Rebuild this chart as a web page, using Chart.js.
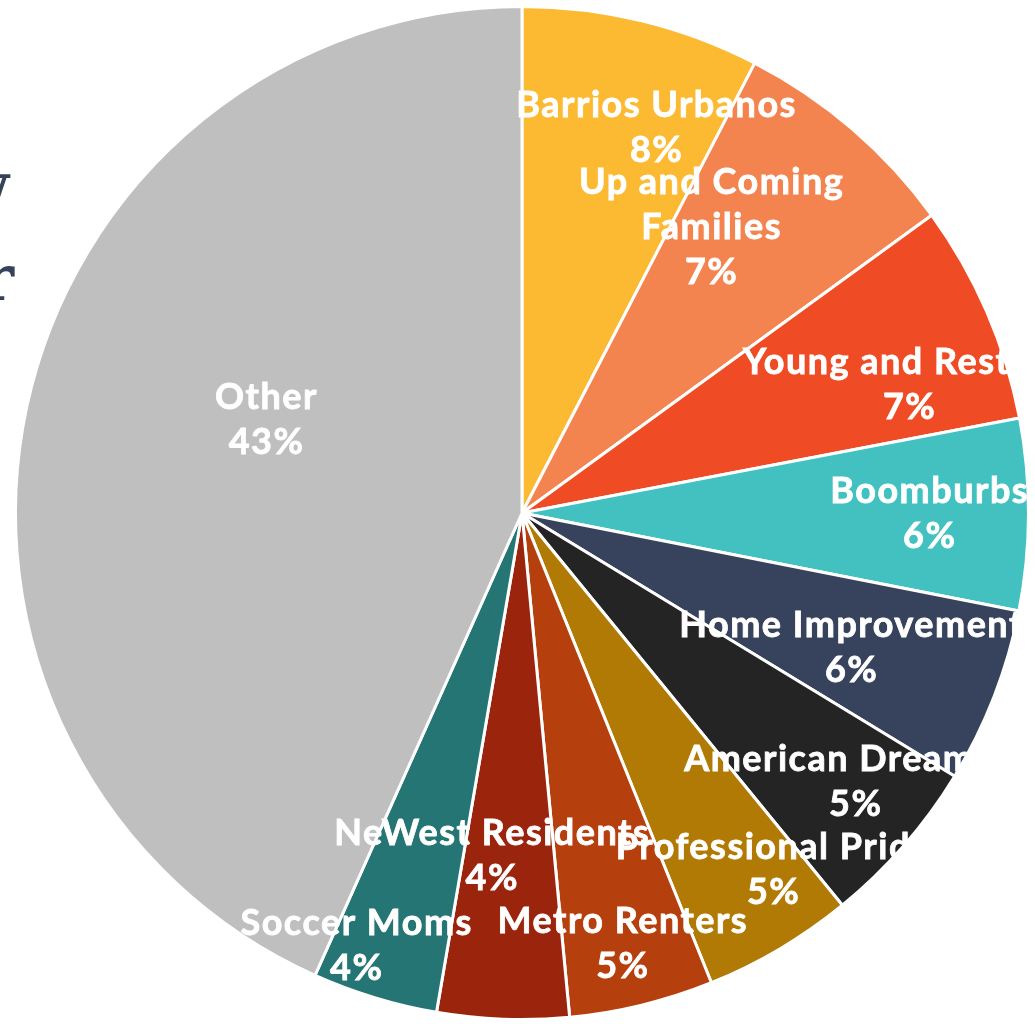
<!DOCTYPE html>
<html>
<head>
<meta charset="utf-8">
<title>Segmentos</title>
<script src="https://cdn.jsdelivr.net/npm/chart.js@4.4.1/dist/chart.umd.min.js"></script>
<style>
  html, body { margin: 0; padding: 0; background: #ffffff; overflow: hidden; }
  #wrap { position: relative; width: 1044px; height: 1026px; }
</style>
</head>
<body>
<div id="wrap"><canvas id="graficoSegmentos" width="1044" height="1026"></canvas></div>
<script>
// Segmentos (nombres y participacion en %)
const segmentos = [
  'Barrios Urbanos',
  ['Up and Coming', 'Families'],
  'Young and Restless',
  'Boomburbs',
  'Home Improvement',
  'American Dreamers',
  'Professional Pride',
  'Metro Renters',
  'NeWest Residents',
  'Soccer Moms',
  'Other'
];
const participacion = [7.6, 7.4, 7.0, 6.1, 5.6, 5.4, 4.8, 4.6, 4.2, 4.0, 43.3];
const colores = [
  '#FBBA31', '#F3844F', '#EF4B24', '#43C1C1', '#37435D', '#242424',
  '#B17A04', '#B5400E', '#9A250C', '#257574', '#BFBFBF'
];

// ajuste de cada etiqueta: [fraccion del radio, giro en grados]
const ajusteEtiquetas = [
  [0.805, 5.6], [0.677, -7.1], [0.806, 5.1], [0.805, 0], [0.703, 1.0],
  [0.846, -2.2], [0.862, -4.6], [0.873, 0.5], [0.679, 2.8], [0.914, 4.0], [0.537, 8]
];

// texto del titulo que queda detras, cortado al borde izquierdo
const tituloFondo = {
  id: 'tituloFondo',
  beforeDraw(chart) {
    const ctx = chart.ctx;
    ctx.save();
    ctx.fillStyle = '#36415A';
    ctx.font = 'bold 64px "DejaVu Serif"';
    ctx.textAlign = 'right';
    ctx.textBaseline = 'alphabetic';
    ctx.fillText('w', 9, 207);
    ctx.fillText('r', 14, 300);
    ctx.restore();
  }
};

// etiquetas blancas con nombre y porcentaje dentro de cada porcion
const etiquetas = {
  id: 'etiquetas',
  afterDatasetsDraw(chart) {
    const ctx = chart.ctx;
    const meta = chart.getDatasetMeta(0);
    const datos = chart.data.datasets[0].data;
    const total = datos.reduce((a, b) => a + b, 0);
    ctx.save();
    ctx.fillStyle = '#ffffff';
    ctx.strokeStyle = '#ffffff';
    ctx.lineWidth = 0.8;
    ctx.font = 'bold 36px Lato';
    ctx.letterSpacing = '1.5px';
    ctx.textAlign = 'center';
    ctx.textBaseline = 'middle';
    meta.data.forEach((arco, i) => {
      const p = arco.getProps(['x', 'y', 'startAngle', 'endAngle', 'outerRadius'], true);
      const [frac, giro] = ajusteEtiquetas[i];
      const ang = (p.startAngle + p.endAngle) / 2 + giro * Math.PI / 180;
      const r = p.outerRadius * frac;
      const cx = p.x + r * Math.cos(ang);
      const cy = p.y + r * Math.sin(ang);
      const nombre = chart.data.labels[i];
      const lineas = (Array.isArray(nombre) ? nombre.slice() : [nombre]);
      lineas.push(Math.round(datos[i] / total * 100) + '%');
      const alto = 45;
      const y0 = cy - (lineas.length - 1) * alto / 2;
      lineas.forEach((t, k) => {
        ctx.fillText(t, cx, y0 + k * alto);
        ctx.strokeText(t, cx, y0 + k * alto);
      });
    });
    ctx.restore();
  }
};

const ctxSegmentos = document.getElementById('graficoSegmentos').getContext('2d');
new Chart(ctxSegmentos, {
  type: 'pie',
  data: {
    labels: segmentos,
    datasets: [{
      data: participacion,
      backgroundColor: colores,
      borderColor: '#ffffff',
      borderWidth: 3
    }]
  },
  options: {
    responsive: false,
    devicePixelRatio: 1,
    animation: false,
    layout: { padding: 5 },
    plugins: {
      legend: { display: false },
      tooltip: { enabled: false }
    }
  },
  plugins: [tituloFondo, etiquetas]
});
</script>
</body>
</html>
